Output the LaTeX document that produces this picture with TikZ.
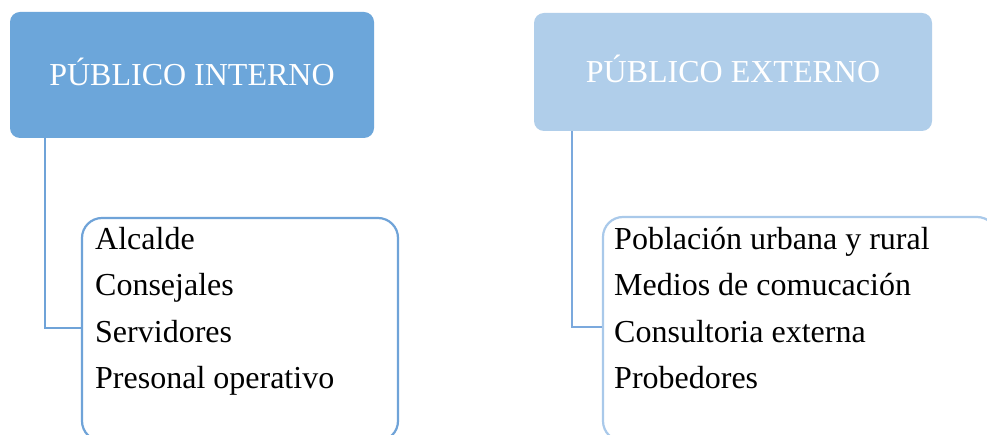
\documentclass[tikz,border=0pt]{standalone}
\usepackage{fontspec}
\setmainfont{Liberation Serif}
\definecolor{hdrdark}{RGB}{108,166,218}
\definecolor{hdrlight}{RGB}{176,206,234}
\definecolor{linedark}{RGB}{111,163,216}
\definecolor{linemid}{RGB}{123,169,221}
\definecolor{linelight}{RGB}{169,201,234}
\tikzset{
  hdrbox/.style={rounded corners=10pt, draw=none, inner sep=0pt, text=white,
    font=\fontsize{32}{38}\selectfont, text height=21pt, text depth=0pt},
  listbox/.style={rounded corners=20pt, line width=2.2pt, fill=white, inner sep=0pt},
  item/.style={anchor=base west, inner sep=0pt, font=\fontsize{32}{38}\selectfont},
  conn/.style={line width=2.2pt}
}
\begin{document}
\begin{tikzpicture}[x=1pt,y=-1pt]
\useasboundingbox (0,0) rectangle (987,435);
\clip (0,0) rectangle (987,435);
\fill[white] (0,0) rectangle (987,435);
% header boxes
\node[hdrbox, fill=hdrdark, minimum width=364pt, minimum height=126pt] (pi) at (192,75) {PÚBLICO INTERNO};
\node[hdrbox, fill=hdrlight, minimum width=398pt, minimum height=118pt] (pe) at (733,72) {PÚBLICO EXTERNO};
% list boxes
\node[listbox, draw=linedark, minimum width=316pt, minimum height=223pt] (li) at (240,329.5) {};
\node[listbox, draw=linelight, minimum width=394pt, minimum height=224pt] (le) at (800,329) {};
% connectors
\draw[conn, draw=linedark] ([xshift=35pt]pi.south west) |- ([yshift=-111pt]li.north west);
\draw[conn, draw=linemid] ([xshift=38pt]pe.south west) |- ([yshift=-111pt]le.north west);
% items
\node[item] (a1) at (95,250) {Alcalde};
\node[item] (a2) at (95,296) {Consejales};
\node[item] (a3) at (95,342) {Servidores};
\node[item] (a4) at (95,388) {Presonal operativo};
\node[item] (b1) at (614,250) {Población urbana y rural};
\node[item] (b2) at (614,296) {Medios de comucación};
\node[item] (b3) at (614,342) {Consultoria externa};
\node[item] (b4) at (614,388) {Probedores};
\end{tikzpicture}
\end{document}
